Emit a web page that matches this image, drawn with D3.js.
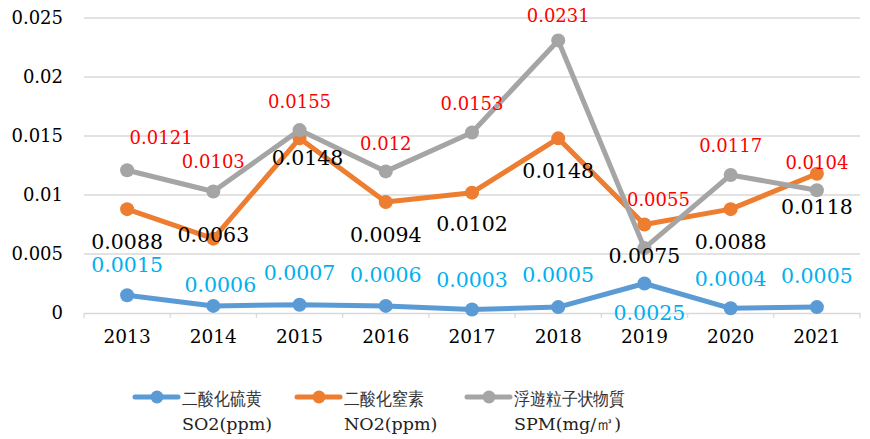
<!DOCTYPE html>
<html>
<head>
    <meta charset="utf-8">
    <title>SO2 NO2 SPM</title>
    <script src="https://cdnjs.cloudflare.com/ajax/libs/d3/7.8.5/d3.min.js"></script>
</head>
<body style="margin:0">
<style>
    body { background: #fff; }
    text { font-family: "DejaVu Serif", serif; }
</style>
<script>
    const years = ["2013", "2014", "2015", "2016", "2017", "2018", "2019", "2020", "2021"];
    const so2 = [0.0015, 0.0006, 0.0007, 0.0006, 0.0003, 0.0005, 0.0025, 0.0004, 0.0005];
    const no2 = [0.0088, 0.0063, 0.0148, 0.0094, 0.0102, 0.0148, 0.0075, 0.0088, 0.0118];
    const spm = [0.0121, 0.0103, 0.0155, 0.012, 0.0153, 0.0231, 0.0055, 0.0117, 0.0104];
    const yTicks = [0, 0.005, 0.01, 0.015, 0.02, 0.025];
    const seriesNames = [["二酸化硫黄", "SO2(ppm)"], ["二酸化窒素", "NO2(ppm)"], ["浮遊粒子状物質", "SPM(mg/㎥)"]];

    // label offsets from each point (the labels were dragged around in the original)
    const so2LabelOff = [[0, -31], [7, -21], [0, -32], [0, -31], [0, -30], [0, -32], [5, 29], [0, -30], [0, -31]];
    const no2LabelOff = [[0, 32], [0, -4], [8, 19], [0, 33], [0, 31], [0, 32], [0, 31], [0, 32], [0, 33]];
    const spmLabelOff = [[34, -33], [0, -30], [0, -29], [0, -28], [0, -29], [0, -25], [14, -49], [0, -29], [0, -28]];

    const W = 870, H = 439;
    const svg = d3.select("body").append("svg").attr("width", W).attr("height", H);

    const x = d3.scaleBand().domain(years).range([84, 860]);
    const y = d3.scaleLinear().domain([0, 0.025]).range([313, 18]);

    // grid
    svg.append("g").selectAll("line").data(yTicks.slice(1)).enter().append("line")
        .attr("x1", 84).attr("x2", 860)
        .attr("y1", d => y(d)).attr("y2", d => y(d))
        .attr("stroke", "#d9d9d9").attr("stroke-width", 1.3);

    const yAxis = svg.append("g").attr("transform", "translate(84,0)")
        .call(d3.axisLeft(y).tickValues(yTicks).tickSize(0).tickPadding(21).tickFormat(d => String(d)));
    yAxis.select(".domain").remove();
    yAxis.selectAll("text").attr("font-size", 18).attr("font-family", "DejaVu Serif").attr("fill", "#000");

    const xAxis = svg.append("g").attr("transform", "translate(0,313)")
        .call(d3.axisBottom(x).tickSize(0).tickPadding(17));
    xAxis.select(".domain").attr("stroke", "#d9d9d9").attr("stroke-width", 1.3);
    xAxis.selectAll("text").attr("font-size", 18.5).attr("font-family", "DejaVu Serif").attr("fill", "#000");
    // ticks between categories
    const bounds = years.map(d => x(d)).concat([x.range()[1]]);
    xAxis.selectAll(".sep").data(bounds).enter().append("line").attr("class", "sep")
        .attr("x1", d => d).attr("x2", d => d).attr("y1", 0).attr("y2", 5)
        .attr("stroke", "#d9d9d9").attr("stroke-width", 1.3);

    const cx = d => x(d) + x.bandwidth() / 2;
    const series = [
        {vals: so2, color: "#5b9bd5", label: "#00b0f0", size: 20.5, off: so2LabelOff},
        {vals: no2, color: "#ed7d31", label: "#000000", size: 20.5, off: no2LabelOff},
        {vals: spm, color: "#a5a5a5", label: "#ff0000", size: 18, off: spmLabelOff}
    ];

    const line = d3.line().x((d, i) => cx(years[i])).y(d => y(d));
    series.forEach(s => {
        const g = svg.append("g");
        g.append("path").attr("d", line(s.vals)).attr("fill", "none")
            .attr("stroke", s.color).attr("stroke-width", 5).attr("stroke-linejoin", "round");
        g.selectAll("circle").data(s.vals).enter().append("circle")
            .attr("cx", (d, i) => cx(years[i])).attr("cy", d => y(d)).attr("r", 7)
            .attr("fill", s.color);
    });

    series.forEach(s => {
        svg.append("g").selectAll("text").data(s.vals).enter().append("text")
            .attr("x", (d, i) => cx(years[i]) + s.off[i][0])
            .attr("y", (d, i) => y(d) + s.off[i][1])
            .attr("text-anchor", "middle").attr("dy", "0.36em")
            .attr("font-size", s.size).attr("fill", s.label)
            .text(d => String(d));
    });

    // legend
    const legX = [135, 297, 467];
    const leg = svg.append("g");
    series.forEach((s, i) => {
        const g = leg.append("g").attr("transform", `translate(${legX[i]},397)`);
        g.append("line").attr("x1", 0).attr("x2", 43).attr("stroke", s.color).attr("stroke-width", 5)
            .attr("stroke-linecap", "round");
        g.append("circle").attr("cx", 22).attr("r", 6.5).attr("fill", s.color);
        // slightly condensed CJK like the original font
        g.append("text").attr("transform", "translate(47,8) scale(0.88,1)")
            .attr("font-family", "Noto Sans CJK JP").attr("font-weight", 300)
            .attr("font-size", 18).attr("fill", "#333").text(seriesNames[i][0]);
        g.append("text").attr("x", 47).attr("y", 33).attr("font-family", "Liberation Serif")
            .attr("font-size", 17.5).attr("fill", "#222").text(seriesNames[i][1]);
    });
</script>
</body>
</html>
